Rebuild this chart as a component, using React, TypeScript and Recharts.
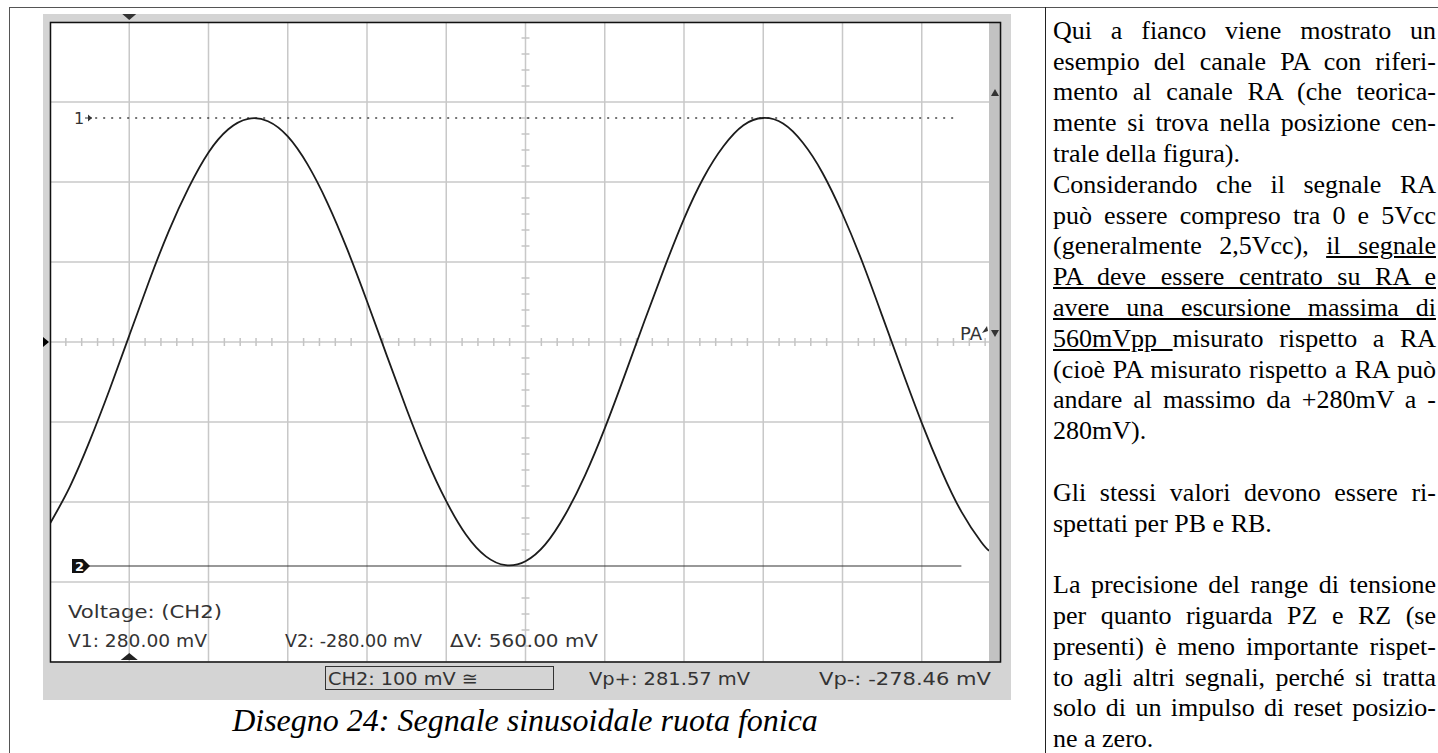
import React from 'react';
import { LineChart, Line, XAxis, YAxis, CartesianGrid, ReferenceLine, ReferenceDot } from 'recharts';

// time in screen divisions, CH2 voltage in mV
const timeDiv = [0, 0.25, 0.5, 0.75, 1, 1.25, 1.5, 1.75, 2, 2.25, 2.5, 2.75, 3, 3.25, 3.5, 3.75, 4, 4.25, 4.5, 4.75, 5, 5.25, 5.5, 5.75, 6, 6.25, 6.5, 6.75, 7, 7.25, 7.5, 7.75, 8, 8.25, 8.5, 8.75, 9, 9.25, 9.5, 9.75, 10, 10.25, 10.5, 10.75, 11, 11.25, 11.5, 11.75, 11.85];
const ch2mV = [-227, -181, -124, -60, 8, 76, 139, 193, 237, 266, 279, 276, 257, 222, 174, 116, 51, -17, -84, -146, -199, -241, -268, -279, -274, -253, -216, -167, -108, -42, 26, 92, 154, 206, 245, 271, 280, 273, 249, 211, 160, 100, 33, -35, -101, -161, -212, -250, -261];

const gridX = [0, 1, 2, 3, 4, 5, 6, 7, 8, 9, 10, 11, 12];
const gridY = [-400, -300, -200, -100, 0, 100, 200, 300, 400];
const cursorV1 = 280;
const cursorV2 = -280;
const triggerDiv = 1;

const trace = timeDiv.map((t, i) => ({ t, v: ch2mV[i] }));

const minorX: number[] = [];
for (let k = 1; k < 60; k++) if (k % 5 !== 0) minorX.push(k / 5);
const minorY: number[] = [];
for (let k = -19; k < 20; k++) if (k % 5 !== 0) minorY.push(k * 20);

type Seg = [string, boolean];
const textLines: { segs: Seg[]; last?: boolean }[] = [
  { segs: [['Qui a fianco viene mostrato un', false]] },
  { segs: [['esempio del canale PA con riferi-', false]] },
  { segs: [['mento al canale RA (che teorica-', false]] },
  { segs: [['mente si trova nella posizione cen-', false]] },
  { segs: [['trale della figura).', false]], last: true },
  { segs: [['Considerando che il segnale RA', false]] },
  { segs: [['può essere compreso tra 0 e 5Vcc', false]] },
  { segs: [['(generalmente 2,5Vcc), ', false], ['il segnale', true]] },
  { segs: [['PA deve essere centrato su RA e', true]] },
  { segs: [['avere una escursione massima di', true]] },
  { segs: [['560mVpp ', true], ['misurato rispetto a RA', false]] },
  { segs: [['(cioè PA misurato rispetto a RA può', false]] },
  { segs: [['andare al massimo da +280mV a -', false]] },
  { segs: [['280mV).', false]], last: true },
  { segs: [], last: true },
  { segs: [['Gli stessi valori devono essere ri-', false]] },
  { segs: [['spettati per PB e RB.', false]], last: true },
  { segs: [], last: true },
  { segs: [['La precisione del range di tensione', false]] },
  { segs: [['per quanto riguarda PZ e RZ (se', false]] },
  { segs: [['presenti) è meno importante rispet-', false]] },
  { segs: [['to agli altri segnali, perché si tratta', false]] },
  { segs: [['solo di un  impulso di reset posizio-', false]] },
  { segs: [['ne a zero.', false]], last: true },
];

const scopeFont = 'DejaVu Sans';
const scopeTxt = '#333';

const TriDown = (p: any) => (
  <polygon points={`${p.cx - 7},${p.cy - 8} ${p.cx + 7},${p.cy - 8} ${p.cx},${p.cy - 2}`} fill="#333" />
);
const TriUp = (p: any) => (
  <polygon points={`${p.cx - 8.5},${p.cy - 2} ${p.cx + 8.5},${p.cy - 2} ${p.cx},${p.cy - 9}`} fill="#222" />
);
const TriRight = (p: any) => (
  <polygon points={`${p.cx - 7},${p.cy - 5} ${p.cx - 7},${p.cy + 5} ${p.cx - 1},${p.cy}`} fill="#000" />
);

export default function App() {
  return (
    <div style={{ position: 'absolute', left: 0, top: 0, width: 1438, height: 753, background: '#fff', overflow: 'hidden' }}>
      {/* oscilloscope panel */}
      <div style={{ position: 'absolute', left: 43, top: 14, width: 968, height: 686, background: '#d4d4d4' }}>
        <LineChart width={968} height={686} data={trace} margin={{ top: 8, right: 10, bottom: 38, left: 7 }}>
          <CartesianGrid
            fill="#ffffff"
            stroke="#c8c8c8"
            strokeWidth={1.5}
            strokeDasharray=""
            verticalValues={gridX}
            horizontalValues={gridY}
          />
          <XAxis dataKey="t" type="number" domain={[0, 12]} ticks={gridX} hide allowDataOverflow />
          <YAxis type="number" domain={[-400, 400]} ticks={gridY} hide allowDataOverflow />
          {minorX.map((x) => (
            <ReferenceLine key={'mx' + x} segment={[{ x, y: -5 }, { x, y: 5 }]} stroke="#c4c4c4" strokeWidth={1.5} />
          ))}
          {minorY.map((y) => (
            <ReferenceLine key={'my' + y} segment={[{ x: 5.95, y }, { x: 6.05, y }]} stroke="#c4c4c4" strokeWidth={1.5} />
          ))}
          <ReferenceLine segment={[{ x: 0.57, y: cursorV1 }, { x: 11.46, y: cursorV1 }]} stroke="#444" strokeWidth={1.5} strokeDasharray="2 6" />
          <ReferenceLine segment={[{ x: 0.48, y: cursorV2 }, { x: 11.5, y: cursorV2 }]} stroke="#333" strokeWidth={1.2} />
          <Line dataKey="v" type="natural" stroke="#1c1c1c" strokeWidth={1.8} dot={false} isAnimationActive={false} />
          <ReferenceDot x={triggerDiv} y={400} ifOverflow="visible" shape={TriDown} />
          <ReferenceDot x={triggerDiv} y={-400} ifOverflow="visible" shape={TriUp} />
          <ReferenceDot x={0} y={0} ifOverflow="visible" shape={TriRight} />
        </LineChart>
      </div>

      <svg width={1438} height={753} style={{ position: 'absolute', left: 0, top: 0, pointerEvents: 'none' }}>
        {/* outer table lines */}
        <line x1={9} y1={7.5} x2={1438} y2={7.5} stroke="#555" strokeWidth={1} />
        <line x1={9.5} y1={7} x2={9.5} y2={753} stroke="#555" strokeWidth={1} />
        <line x1={1045.5} y1={7} x2={1045.5} y2={753} stroke="#222" strokeWidth={1} />

        {/* right scroll strip */}
        <rect x={989} y={22} width={11.5} height={640} fill="#c2c2c2" />
        <polygon points="991,96 999,96 995,89" fill="#333" />
        <polygon points="991,330 999,330 995,337" fill="#333" />
        {/* frame */}
        <rect x={50.5} y={22.5} width={950} height={639.5} fill="none" stroke="#111" strokeWidth={1.5} />

        {/* channel labels */}
        <text x={74} y={124} fontFamily={scopeFont} fontSize={16} fill="#333">1</text>
        <line x1={85} y1={118} x2={92} y2={118} stroke="#333" strokeWidth={1} />
        <polygon points="88,114.5 92,118 88,121.5" fill="#333" />
        <polygon points="72,559 83,559 90,566 83,573 72,573" fill="#111" />
        <text x={75} y={571} fontFamily={scopeFont} fontSize={13} fontWeight="bold" fill="#fff">2</text>
        <text x={960} y={340} fontFamily={scopeFont} fontSize={18} fill="#333" textLength={22} lengthAdjust="spacingAndGlyphs">PA</text>
        <polygon points="982,333 987,326 988,331" fill="#333" />

        {/* measurement texts */}
        <text x={68} y={618} fontFamily={scopeFont} fontSize={18} fill={scopeTxt} textLength={154} lengthAdjust="spacingAndGlyphs">Voltage: (CH2)</text>
        <text x={68} y={647} fontFamily={scopeFont} fontSize={18} fill={scopeTxt} textLength={139} lengthAdjust="spacingAndGlyphs">V1: 280.00 mV</text>
        <text x={285} y={647} fontFamily={scopeFont} fontSize={18} fill={scopeTxt} textLength={137} lengthAdjust="spacingAndGlyphs">V2: -280.00 mV</text>
        <text x={450} y={647} fontFamily={scopeFont} fontSize={18} fill={scopeTxt} textLength={148} lengthAdjust="spacingAndGlyphs">ΔV: 560.00 mV</text>

        {/* bottom status bar */}
        <rect x={325.5} y={666.5} width={228} height={23} fill="none" stroke="#333" strokeWidth={1} />
        <text x={328} y={685} fontFamily={scopeFont} fontSize={18} fill={scopeTxt} textLength={150} lengthAdjust="spacingAndGlyphs">CH2: 100 mV ≅</text>
        <text x={589} y={685} fontFamily={scopeFont} fontSize={18} fill={scopeTxt} textLength={161} lengthAdjust="spacingAndGlyphs">Vp+: 281.57 mV</text>
        <text x={819} y={685} fontFamily={scopeFont} fontSize={18} fill={scopeTxt} textLength={172} lengthAdjust="spacingAndGlyphs">Vp-: -278.46 mV</text>
      </svg>

      {/* caption */}
      <div
        style={{
          position: 'absolute',
          left: 9,
          top: 702,
          width: 1032,
          textAlign: 'center',
          fontFamily: 'Liberation Serif',
          fontStyle: 'italic',
          fontSize: 32,
          lineHeight: '36px',
          color: '#000',
          whiteSpace: 'nowrap',
        }}
      >
        Disegno 24: Segnale sinusoidale ruota fonica
      </div>

      {/* right column text */}
      {textLines.map((ln, i) => (
        <div
          key={i}
          style={{
            position: 'absolute',
            left: 1053,
            top: 15.8 + 30.8 * i,
            width: 383,
            height: 30.8,
            fontFamily: 'Liberation Serif',
            fontSize: 26,
            lineHeight: '30.8px',
            color: '#000',
            textAlign: ln.last ? 'left' : 'justify',
            textAlignLast: ln.last ? 'left' : 'justify',
          } as React.CSSProperties}
        >
          {ln.segs.map(([s, u], j) => (
            <span key={j} style={{ textDecoration: u ? 'underline' : 'none' }}>
              {s}
            </span>
          ))}
        </div>
      ))}
    </div>
  );
}
